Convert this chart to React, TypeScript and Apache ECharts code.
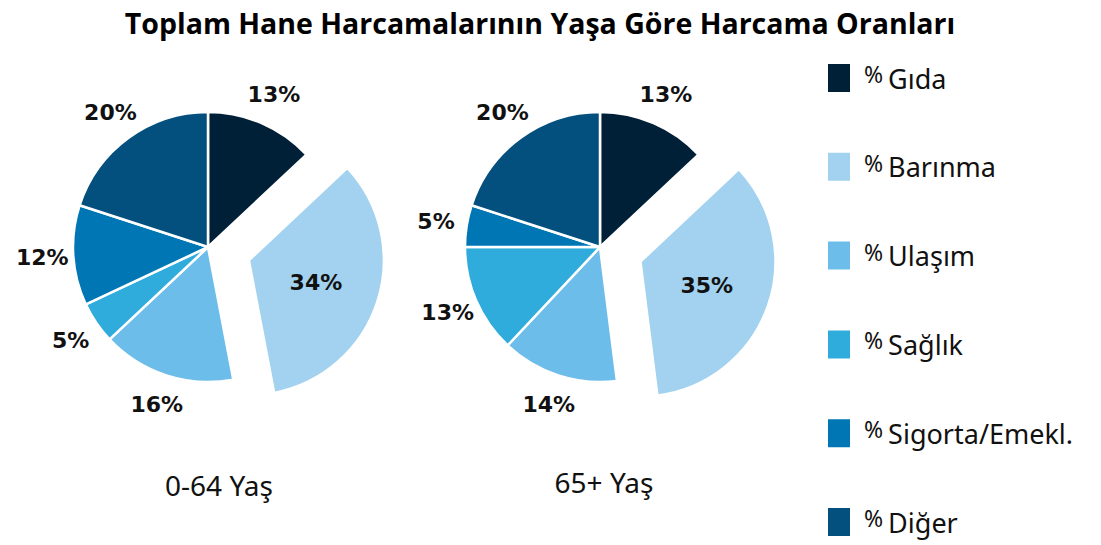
import React, { useEffect, useRef } from "react";
import * as echarts from "echarts";

const categories = ["Gıda", "Barınma", "Ulaşım", "Sağlık", "Sigorta/Emekl.", "Diğer"];
const group1Values = [13, 34, 16, 5, 12, 20];
const group2Values = [13, 35, 14, 13, 5, 20];
const groupLabels = ["0-64 Yaş", "65+ Yaş"];
const colors = ["#002038", "#a2d2ef", "#6dbdea", "#30acdc", "#0076b4", "#034f7e"];
const titleText = "Toplam Hane Harcamalarının Yaşa Göre Harcama Oranları";
const explodedIndex = 1;

const pctFont = { fontFamily: "DejaVu Sans", fontWeight: "bold" as const, fontSize: 22, color: "#111" };

function pieSeries(values: number[], center: number[]) {
  const main = {
    type: "pie",
    center,
    radius: [0, 135],
    startAngle: 90,
    clockwise: true,
    selectedMode: "single",
    selectedOffset: 43,
    emphasis: { disabled: true },
    select: { itemStyle: { borderColor: "#fff", borderWidth: 2.5 } },
    itemStyle: { borderColor: "#fff", borderWidth: 2.5 },
    labelLine: { show: false },
    data: values.map((v, i) => ({
      name: categories[i],
      value: v,
      selected: i === explodedIndex,
      itemStyle: { color: colors[i] },
      label: {
        show: i === explodedIndex,
        position: "inside",
        formatter: "{c}%",
        ...pctFont,
      },
    })),
  };
  const ring = {
    type: "pie",
    center,
    radius: [146, 180],
    startAngle: 90,
    clockwise: true,
    silent: true,
    emphasis: { disabled: true },
    itemStyle: { color: "rgba(0,0,0,0)", borderWidth: 0 },
    labelLine: { show: false },
    data: values.map((v, i) => ({
      name: categories[i],
      value: v,
      itemStyle: { color: "rgba(0,0,0,0)" },
      label: {
        show: i !== explodedIndex,
        position: "inside",
        formatter: "{c}%",
        ...pctFont,
      },
    })),
  };
  return [main, ring];
}

export default function App() {
  const ref = useRef<HTMLDivElement>(null);
  useEffect(() => {
    if (!ref.current) return;
    const chart = echarts.init(ref.current, undefined, { renderer: "svg" });
    chart.setOption({
      animation: false,
      color: colors,
      title: [
        {
          text: titleText,
          left: 535,
          top: 3,
          textAlign: "center",
          textStyle: { fontFamily: "Open Sans", fontWeight: "bold", fontSize: 28.5, color: "#000" },
        },
        {
          text: groupLabels[0],
          left: 214,
          top: 466,
          textAlign: "center",
          textStyle: { fontFamily: "Noto Sans", fontWeight: "normal", fontSize: 28, color: "#111" },
        },
        {
          text: groupLabels[1],
          left: 599,
          top: 463,
          textAlign: "center",
          textStyle: { fontFamily: "Noto Sans", fontWeight: "normal", fontSize: 28, color: "#111" },
        },
      ],
      legend: {
        orient: "vertical",
        left: 826,
        top: 62,
        padding: 0,
        icon: "rect",
        itemWidth: 24,
        itemHeight: 30,
        itemGap: 56.8,
        selectedMode: false,
        data: categories,
        formatter: (name: string) => `{p|%}{n|${name}}`,
        textStyle: {
          rich: {
            p: { fontFamily: "Noto Sans", fontSize: 23, color: "#111", padding: [0, 5, 8, 8] },
            n: { fontFamily: "Noto Sans", fontSize: 27, color: "#111" },
          },
        },
      },
      series: [...pieSeries(group1Values, [208, 247]), ...pieSeries(group2Values, [600, 247])],
    });
    return () => chart.dispose();
  }, []);
  return (
    <div
      ref={ref}
      style={{ position: "fixed", left: 0, top: 0, width: 1101, height: 545, background: "#fff" }}
    />
  );
}
